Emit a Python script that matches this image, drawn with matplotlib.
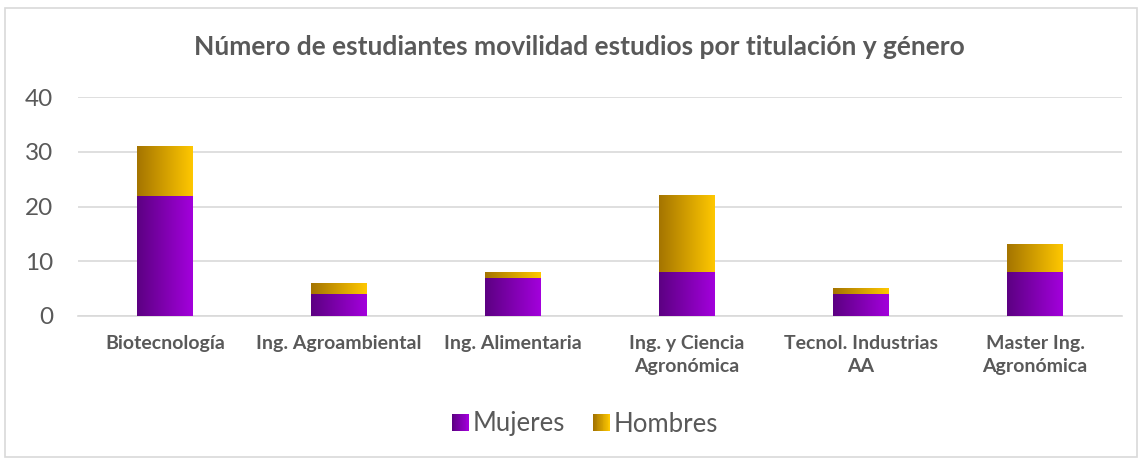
import matplotlib
matplotlib.use("Agg")
import matplotlib.pyplot as plt
import numpy as np
from matplotlib.patches import Rectangle
from matplotlib.legend_handler import HandlerBase
from matplotlib.colors import LinearSegmentedColormap

categories = ["Biotecnología", "Ing. Agroambiental", "Ing. Alimentaria",
              "Ing. y Ciencia\nAgronómica", "Tecnol. Industrias\nAA", "Master Ing.\nAgronómica"]
mujeres = [22, 4, 7, 8, 4, 8]
hombres = [9, 2, 1, 14, 1, 5]
yticks = [0, 10, 20, 30, 40]
title = "Número de estudiantes movilidad estudios por titulación y género"

plt.rcParams['font.family'] = ['Lato', 'DejaVu Sans']
txt = '#595959'

cmap_m = LinearSegmentedColormap.from_list('m', ['#5c0082', '#a300dc'])
cmap_h = LinearSegmentedColormap.from_list('h', ['#a47400', '#ffc800'])

fig = plt.figure(figsize=(11.43, 4.59), dpi=100)
fig.patches.append(Rectangle((5/1143, 2/459), 1132/1143, 449/459, transform=fig.transFigure,
                             fill=False, edgecolor='#d9d9d9', linewidth=1.2))
ax = fig.add_axes([78/1143, 1-316/459, 1044/1143, 219/459])
x = np.arange(len(categories))
w = 0.32
b1 = ax.bar(x, mujeres, w, color='none', label='Mujeres', zorder=3)
b2 = ax.bar(x, hombres, w, bottom=mujeres, color='none', label='Hombres', zorder=3)

grad = np.linspace(0, 1, 256).reshape(1, -1)
for bars, cm in ((b1, cmap_m), (b2, cmap_h)):
    for p in bars:
        x0, y0 = p.get_x(), p.get_y()
        ax.imshow(grad, cmap=cm, extent=(x0, x0 + p.get_width(), y0, y0 + p.get_height()),
                  aspect='auto', zorder=3, interpolation='bilinear')
ax.set_xlim(-0.5, len(categories) - 0.5)
ax.set_ylim(0, 40)

ax.set_yticks(yticks)
ax.yaxis.grid(True, color='#d9d9d9', linewidth=1.2, zorder=0)
ax.set_axisbelow(True)
for s in ['top', 'right', 'left']:
    ax.spines[s].set_visible(False)
ax.spines['bottom'].set_color('#d9d9d9')
ax.spines['bottom'].set_linewidth(1.2)
ax.tick_params(axis='both', length=0)
ax.tick_params(axis='y', labelsize=17.5, labelcolor=txt, pad=18)
ax.set_xticks(x)
ax.set_xticklabels(categories, fontsize=14, fontweight='bold', color=txt, linespacing=1.38)
ax.tick_params(axis='x', pad=14)

fig.text(0.507, 1-47/459, title, ha='center', va='center', fontsize=19,
         fontweight='bold', color=txt)


class GradHandler(HandlerBase):
    def __init__(self, cm):
        super().__init__()
        self.cm = cm

    def create_artists(self, legend, orig_handle, xdescent, ydescent, width, height, fontsize, trans):
        n = 20
        size = height * 0.95
        x0 = -xdescent + width - size
        y0 = -ydescent + (height - size) / 2
        arts = []
        for i in range(n):
            r = Rectangle((x0 + size * i / n, y0), size / n * 1.05, size,
                          facecolor=self.cm(i / (n - 1)), edgecolor='none', transform=trans)
            arts.append(r)
        return arts


leg = fig.legend([b1, b2], ['Mujeres', 'Hombres'], loc='center',
                 bbox_to_anchor=(0.511, 1-424/459), ncol=2, frameon=False,
                 fontsize=18.5, handler_map={b1: GradHandler(cmap_m), b2: GradHandler(cmap_h)},
                 handlelength=0.75, handletextpad=0.15, columnspacing=1.0)
for t in leg.get_texts():
    t.set_color(txt)

fig.savefig('out.png', dpi=100)
